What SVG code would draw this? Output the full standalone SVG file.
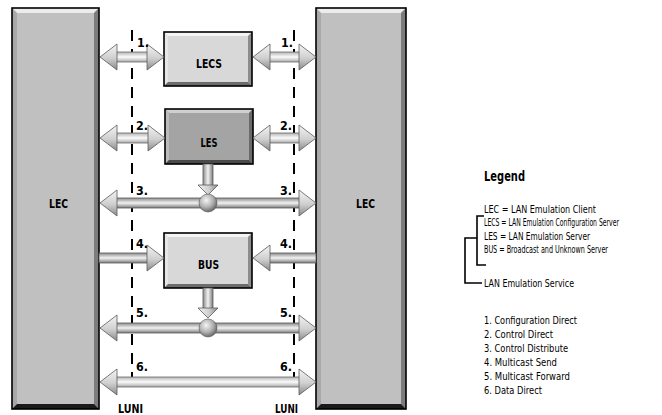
<svg xmlns="http://www.w3.org/2000/svg" width="662" height="415" viewBox="0 0 662 415">
<defs>
<linearGradient id="hs" x1="0" y1="0" x2="0" y2="1">
<stop offset="0" stop-color="#8c8c8c"/><stop offset="0.5" stop-color="#f2f2f2"/><stop offset="1" stop-color="#7a7a7a"/>
</linearGradient>
<linearGradient id="hsl" x1="0" y1="0" x2="0" y2="1">
<stop offset="0" stop-color="#b4b4b4"/><stop offset="0.5" stop-color="#fbfbfb"/><stop offset="1" stop-color="#a8a8a8"/>
</linearGradient>
<linearGradient id="vs" x1="0" y1="0" x2="1" y2="0">
<stop offset="0" stop-color="#8c8c8c"/><stop offset="0.5" stop-color="#f2f2f2"/><stop offset="1" stop-color="#7a7a7a"/>
</linearGradient>
<linearGradient id="hd" x1="0" y1="0" x2="0" y2="1">
<stop offset="0" stop-color="#f4f4f4"/><stop offset="0.55" stop-color="#cfcfcf"/><stop offset="1" stop-color="#8a8a8a"/>
</linearGradient>
<linearGradient id="hdv" x1="0" y1="0" x2="1" y2="0">
<stop offset="0" stop-color="#f4f4f4"/><stop offset="0.55" stop-color="#cfcfcf"/><stop offset="1" stop-color="#8a8a8a"/>
</linearGradient>
<radialGradient id="ball" cx="0.4" cy="0.35" r="0.65">
<stop offset="0" stop-color="#f4f4f4"/><stop offset="0.6" stop-color="#b0b0b0"/><stop offset="1" stop-color="#6a6a6a"/>
</radialGradient>
</defs>
<style>
.lbl{font-family:"Liberation Sans Narrow","DejaVu Sans Condensed","Liberation Sans",sans-serif;font-weight:bold;fill:#000}
.leg{font-family:"Liberation Sans Narrow","DejaVu Sans Condensed","Liberation Sans",sans-serif;font-size:10px;fill:#000}
.dash{stroke:#000;stroke-width:2;stroke-dasharray:11,8;fill:none}
.sh{fill:url(#hs);stroke:#5a5a5a;stroke-width:0.8}
.shl{fill:url(#hsl);stroke:#6a6a6a;stroke-width:0.8}
.vsh{fill:url(#vs);stroke:#5a5a5a;stroke-width:0.8}
.hd{fill:url(#hd);stroke:#5a5a5a;stroke-width:0.8;stroke-linejoin:round}
.hdv{fill:url(#hdv);stroke:#5a5a5a;stroke-width:0.8;stroke-linejoin:round}
.ball{fill:url(#ball);stroke:#555;stroke-width:0.6}
.outline{fill:none;stroke:#000;stroke-width:1.6}
.br{fill:none;stroke:#000;stroke-width:1.6}
</style>

<g id="lec-left">
<rect x="12" y="8" width="87" height="401" fill="#c0c0c0"/>
<polygon points="12,8 99,8 94,13 17,13" fill="#ececec"/>
<polygon points="12,8 17,13 17,404 12,409" fill="#a8a8a8"/>
<polygon points="99,8 99,409 94,404 94,13" fill="#7c7c7c"/>
<polygon points="12,409 17,404 94,404 99,409" fill="#1a1a1a"/>
<rect class="outline" x="12" y="8" width="87" height="401"/>
<text class="lbl" x="58.5" y="208" font-size="13" text-anchor="middle" textLength="19" lengthAdjust="spacingAndGlyphs">LEC</text>
</g>

<g id="lec-right">
<rect x="316" y="8" width="90" height="401" fill="#c0c0c0"/>
<polygon points="316,8 406,8 401,13 321,13" fill="#ececec"/>
<polygon points="316,8 321,13 321,404 316,409" fill="#a8a8a8"/>
<polygon points="406,8 406,409 401,404 401,13" fill="#7c7c7c"/>
<polygon points="316,409 321,404 401,404 406,409" fill="#1a1a1a"/>
<rect class="outline" x="316" y="8" width="90" height="401"/>
<text class="lbl" x="365.5" y="208" font-size="13" text-anchor="middle" textLength="19" lengthAdjust="spacingAndGlyphs">LEC</text>
</g>

<g id="lecs">
<rect x="164" y="32" width="88" height="54" fill="#d8d8d8"/>
<polygon points="164,32 252,32 248,36 168,36" fill="#f4f4f4"/>
<polygon points="164,32 168,36 168,82 164,86" fill="#e6e6e6"/>
<polygon points="252,32 252,86 248,82 248,36" fill="#8c8c8c"/>
<polygon points="164,86 168,82 248,82 252,86" fill="#6c6c6c"/>
<rect class="outline" x="164" y="32" width="88" height="54"/>
<text class="lbl" x="209" y="68" font-size="13" text-anchor="middle" textLength="26" lengthAdjust="spacingAndGlyphs">LECS</text>
</g>

<g id="les">
<rect x="165" y="109" width="88" height="55" fill="#a4a4a4"/>
<polygon points="165,109 253,109 249,113 169,113" fill="#d0d0d0"/>
<polygon points="165,109 169,113 169,160 165,164" fill="#bcbcbc"/>
<polygon points="253,109 253,164 249,160 249,113" fill="#6a6a6a"/>
<polygon points="165,164 169,160 249,160 253,164" fill="#4a4a4a"/>
<rect class="outline" x="165" y="109" width="88" height="55"/>
<text class="lbl" x="209" y="147" font-size="13" text-anchor="middle" textLength="17" lengthAdjust="spacingAndGlyphs">LES</text>
</g>

<g id="bus">
<rect x="164" y="233" width="88" height="55" fill="#d8d8d8"/>
<polygon points="164,233 252,233 248,237 168,237" fill="#f4f4f4"/>
<polygon points="164,233 168,237 168,284 164,288" fill="#e6e6e6"/>
<polygon points="252,233 252,288 248,284 248,237" fill="#8c8c8c"/>
<polygon points="164,288 168,284 248,284 252,288" fill="#6c6c6c"/>
<rect class="outline" x="164" y="233" width="88" height="55"/>
<text class="lbl" x="208.5" y="269" font-size="13" text-anchor="middle" textLength="21" lengthAdjust="spacingAndGlyphs">BUS</text>
</g>

<g id="luni">
<line class="dash" x1="132" y1="30" x2="132" y2="377"/>
<line class="dash" x1="294" y1="30" x2="294" y2="377"/>
<text class="lbl" x="118" y="413" font-size="12" textLength="25" lengthAdjust="spacingAndGlyphs">LUNI</text>
<text class="lbl" x="275" y="413" font-size="12" textLength="23" lengthAdjust="spacingAndGlyphs">LUNI</text>
</g>

<g id="connectors">
<!-- 1. Configuration Direct -->
<rect class="shl" x="116" y="52" width="32" height="10"/>
<polygon class="hd" points="100,57 117,44 117,70"/>
<polygon class="hd" points="164,57 147,44 147,70"/>
<rect class="shl" x="269" y="52" width="32" height="10"/>
<polygon class="hd" points="253,57 270,44 270,70"/>
<polygon class="hd" points="316,57 299,44 299,70"/>
<!-- 2. Control Direct -->
<rect class="shl" x="116" y="133" width="33" height="10"/>
<polygon class="hd" points="100,138 117,125 117,151"/>
<polygon class="hd" points="165,138 148,125 148,151"/>
<rect class="shl" x="269" y="133" width="32" height="10"/>
<polygon class="hd" points="253,138 270,125 270,151"/>
<polygon class="hd" points="316,138 299,125 299,151"/>
<!-- 3. Control Distribute -->
<rect class="sh" x="116" y="198" width="185" height="10"/>
<polygon class="hd" points="100,203 117,190 117,216"/>
<polygon class="hd" points="316,203 299,190 299,216"/>
<rect class="vsh" x="203" y="164" width="10" height="22"/>
<polygon class="hdv" points="198,185 218,185 208,195"/>
<circle class="ball" cx="208" cy="203" r="9"/>
<!-- 4. Multicast Send -->
<rect class="sh" x="99" y="253" width="50" height="10"/>
<polygon class="hd" points="164,258 147,245 147,271"/>
<rect class="sh" x="269" y="253" width="47" height="10"/>
<polygon class="hd" points="253,258 270,245 270,271"/>
<!-- 5. Multicast Forward -->
<rect class="sh" x="116" y="323" width="185" height="10"/>
<polygon class="hd" points="100,328 117,315 117,341"/>
<polygon class="hd" points="316,328 299,315 299,341"/>
<rect class="vsh" x="203" y="288" width="10" height="21"/>
<polygon class="hdv" points="198,308 218,308 208,318"/>
<circle class="ball" cx="208" cy="328" r="9"/>
<!-- 6. Data Direct -->
<rect class="shl" x="116" y="377" width="185" height="10"/>
<polygon class="hd" points="100,382 117,369 117,395"/>
<polygon class="hd" points="316,382 299,369 299,395"/>
</g>

<g id="conn-labels">
<text class="lbl" x="137" y="47" font-size="12" textLength="12" lengthAdjust="spacingAndGlyphs">1.</text>
<text class="lbl" x="281" y="47" font-size="12" textLength="12" lengthAdjust="spacingAndGlyphs">1.</text>
<text class="lbl" x="136" y="130" font-size="12" textLength="12" lengthAdjust="spacingAndGlyphs">2.</text>
<text class="lbl" x="280" y="130" font-size="12" textLength="12" lengthAdjust="spacingAndGlyphs">2.</text>
<text class="lbl" x="136" y="195" font-size="12" textLength="12" lengthAdjust="spacingAndGlyphs">3.</text>
<text class="lbl" x="280" y="195" font-size="12" textLength="12" lengthAdjust="spacingAndGlyphs">3.</text>
<text class="lbl" x="136" y="248" font-size="12" textLength="12" lengthAdjust="spacingAndGlyphs">4.</text>
<text class="lbl" x="280" y="248" font-size="12" textLength="12" lengthAdjust="spacingAndGlyphs">4.</text>
<text class="lbl" x="136" y="317" font-size="12" textLength="12" lengthAdjust="spacingAndGlyphs">5.</text>
<text class="lbl" x="280" y="317" font-size="12" textLength="12" lengthAdjust="spacingAndGlyphs">5.</text>
<text class="lbl" x="136" y="371" font-size="12" textLength="12" lengthAdjust="spacingAndGlyphs">6.</text>
<text class="lbl" x="280" y="371" font-size="12" textLength="12" lengthAdjust="spacingAndGlyphs">6.</text>
</g>

<g id="legend">
<text class="lbl" x="484" y="181" font-size="14" textLength="41" lengthAdjust="spacingAndGlyphs">Legend</text>
<text class="leg" x="484" y="213" textLength="112" lengthAdjust="spacingAndGlyphs">LEC = LAN Emulation Client</text>
<text class="leg" x="484" y="226" textLength="135" lengthAdjust="spacingAndGlyphs">LECS = LAN Emulation Configuration Server</text>
<text class="leg" x="484" y="239.5" textLength="106" lengthAdjust="spacingAndGlyphs">LES = LAN Emulation Server</text>
<text class="leg" x="484" y="253" textLength="124" lengthAdjust="spacingAndGlyphs">BUS = Broadcast and Unknown Server</text>
<text class="leg" x="484" y="287" textLength="90" lengthAdjust="spacingAndGlyphs">LAN Emulation Service</text>
<polyline class="br" points="484,216 477,216 477,265 486,265"/>
<polyline class="br" points="477,238 465,238 465,283 482,283"/>
<text class="leg" x="484" y="324" textLength="93" lengthAdjust="spacingAndGlyphs">1.  Configuration Direct</text>
<text class="leg" x="484" y="338" textLength="69" lengthAdjust="spacingAndGlyphs">2.  Control Direct</text>
<text class="leg" x="484" y="352" textLength="84" lengthAdjust="spacingAndGlyphs">3.  Control Distribute</text>
<text class="leg" x="484" y="366" textLength="73" lengthAdjust="spacingAndGlyphs">4.  Multicast Send</text>
<text class="leg" x="484" y="380" textLength="86" lengthAdjust="spacingAndGlyphs">5.  Multicast Forward</text>
<text class="leg" x="484" y="394" textLength="58" lengthAdjust="spacingAndGlyphs">6.  Data Direct</text>
</g>
</svg>
